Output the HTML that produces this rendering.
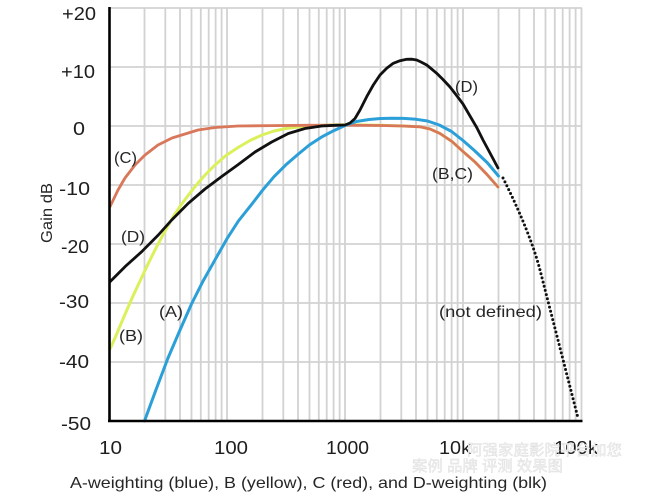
<!DOCTYPE html>
<html>
<head>
<meta charset="utf-8">
<style>
html,body{margin:0;padding:0;background:#fff}
body{width:650px;height:497px;overflow:hidden}
svg{display:block}
.tk{font-family:"Liberation Sans",Arial,sans-serif;font-size:18px;fill:#1e1e1e}
.lb{font-family:"Liberation Sans",Arial,sans-serif;font-size:16px;fill:#262626}
.wm{font-family:"Liberation Sans","Noto Sans CJK SC",sans-serif;font-size:15px;fill:#f2f2f2;stroke:#dcdcdc;stroke-width:0.4}
</style>
</head>
<body>
<svg width="650" height="497" viewBox="0 0 650 497" xmlns="http://www.w3.org/2000/svg">
<rect width="650" height="497" fill="#fff"/>
<path fill="none" stroke="#d2d2d2" stroke-width="1.8" d="M109 8H582M109 67H582M109 126H582M109 185H582M109 244H582M109 303H582M109 362H582
M144.5 8V421M165.3 8V421M180 8V421M191.5 8V421M200.8 8V421M208.7 8V421M215.6 8V421M221.6 8V421M227 8V421
M262.5 8V421M283.3 8V421M298 8V421M309.5 8V421M318.8 8V421M326.7 8V421M333.6 8V421M339.6 8V421M345 8V421
M380.5 8V421M401.3 8V421M416 8V421M427.5 8V421M436.8 8V421M444.7 8V421M451.6 8V421M457.6 8V421M463 8V421
M498.5 8V421M519.3 8V421M534 8V421M545.5 8V421M554.8 8V421M562.7 8V421M569.6 8V421M575.6 8V421M581.5 8V421"/>
<g fill="none" stroke-linejoin="round" stroke-linecap="round">
<polyline stroke="#dcf05c" stroke-width="3" points="110,349 115,338 120,326 126,312 133,296 140,281 148,264 156,248 165,231 173,217 181.7,204 190,193 198,183 206,174 215,165 226,155.5 238,147.5 250,140.5 262,135 274,131 286,128.5 298,127 312,125.8 330,125 345,124.8 380,125.2 403,126 420,126.8 430,129 440,133.5 452,141.5 463,151.5 475,162 487,174.5 498,187"/>
<polyline stroke="#d8775a" stroke-width="2.8" points="110,206.7 118,190 125,178 135,165 145,155 158,145 172,138 185,134 198,130 215,127.5 238,126 272,125.6 305,125.3 345,125.2 380,125.5 403,126 420,126.8 430,129 440,133.5 452,141.5 463,151.5 475,162 487,174.5 498,187"/>
<polyline stroke="#2b9fd8" stroke-width="3" points="144.5,421 156,389.7 167.8,358.5 180,330 191.5,304 203.3,280.6 215.6,258.8 227,238.7 238.4,221 251.1,205.1 262.5,190.3 274,176.7 285.8,164.9 298.1,154.3 309.5,144.9 321.3,137.2 333.6,130.7 345,125.5 356.4,121.5 369.1,119.5 380.5,118.5 392,118.2 403.8,118.4 416.1,119.3 427.5,121 439.3,125 451.6,131.5 463,140.5 474.4,150.5 487.1,162.5 498.5,176"/>
<polyline stroke="#111" stroke-width="2.8" points="110,281.7 125,266.7 141.7,251.7 158.3,235 171.7,220 188.3,203.3 205,189 221.7,176.5 238.3,164.5 255,152 271.7,142 288.3,133.5 305,128.5 321.7,126 335,125.3 345,125 350,123 355,118.5 360,110 366.7,96.7 373.3,85 380,75 386.7,68.3 393.3,63.3 400,60.7 406.7,59.3 412,59.2 416.7,60 421,62 426.7,65 431,68.5 436.7,73.3 443,79.5 450,87 457,96 463,104 470,116 477,128 483,140 490,153 498,168"/>
<path d="M503,178 Q530,232 540,270 L578,418" stroke="#111" stroke-width="3" stroke-dasharray="0 4.3"/>
</g>
<path d="M109.5 7V422M108 421H582.5" stroke="#000" stroke-width="2.6" fill="none"/>
<g class="tk">
<text x="62" y="20" textLength="34" lengthAdjust="spacingAndGlyphs">+20</text>
<text x="61" y="78" textLength="34" lengthAdjust="spacingAndGlyphs">+10</text>
<text x="73" y="135" textLength="12" lengthAdjust="spacingAndGlyphs">0</text>
<text x="59" y="195" textLength="31" lengthAdjust="spacingAndGlyphs">-10</text>
<text x="61" y="253" textLength="28" lengthAdjust="spacingAndGlyphs">-20</text>
<text x="59" y="308" textLength="30" lengthAdjust="spacingAndGlyphs">-30</text>
<text x="59" y="368" textLength="30" lengthAdjust="spacingAndGlyphs">-40</text>
<text x="61" y="430" textLength="30" lengthAdjust="spacingAndGlyphs">-50</text>
<text x="99" y="454" textLength="23" lengthAdjust="spacingAndGlyphs">10</text>
<text x="214" y="454" textLength="34" lengthAdjust="spacingAndGlyphs">100</text>
<text x="326" y="454" textLength="43" lengthAdjust="spacingAndGlyphs">1000</text>
<text x="439" y="454" textLength="32" lengthAdjust="spacingAndGlyphs">10k</text>
<text x="554" y="454" textLength="44" lengthAdjust="spacingAndGlyphs">100k</text>
</g>
<text class="lb" transform="translate(52,213) rotate(-90)" text-anchor="middle" font-size="17" textLength="60" lengthAdjust="spacingAndGlyphs">Gain dB</text>
<text class="lb" x="114" y="163" textLength="23" lengthAdjust="spacingAndGlyphs">(C)</text>
<text class="lb" x="121" y="242" textLength="24" lengthAdjust="spacingAndGlyphs">(D)</text>
<text class="lb" x="119" y="341" textLength="24" lengthAdjust="spacingAndGlyphs">(B)</text>
<text class="lb" x="159" y="317" textLength="24" lengthAdjust="spacingAndGlyphs">(A)</text>
<text class="lb" x="455" y="92" textLength="23" lengthAdjust="spacingAndGlyphs">(D)</text>
<text class="lb" x="432" y="179" textLength="41" lengthAdjust="spacingAndGlyphs">(B,C)</text>
<text class="lb" x="439" y="317" textLength="103" lengthAdjust="spacingAndGlyphs">(not defined)</text>
<text class="lb" x="70" y="488" textLength="477" lengthAdjust="spacingAndGlyphs">A-weighting (blue), B (yellow), C (red), and D-weighting (blk)</text>
<text class="wm" x="467" y="455" textLength="155" lengthAdjust="spacingAndGlyphs">阿强家庭影院平台加您</text>
<text class="wm" x="412" y="471" textLength="151" lengthAdjust="spacingAndGlyphs">案例 品牌 评测 效果图</text>
</svg>
</body>
</html>
